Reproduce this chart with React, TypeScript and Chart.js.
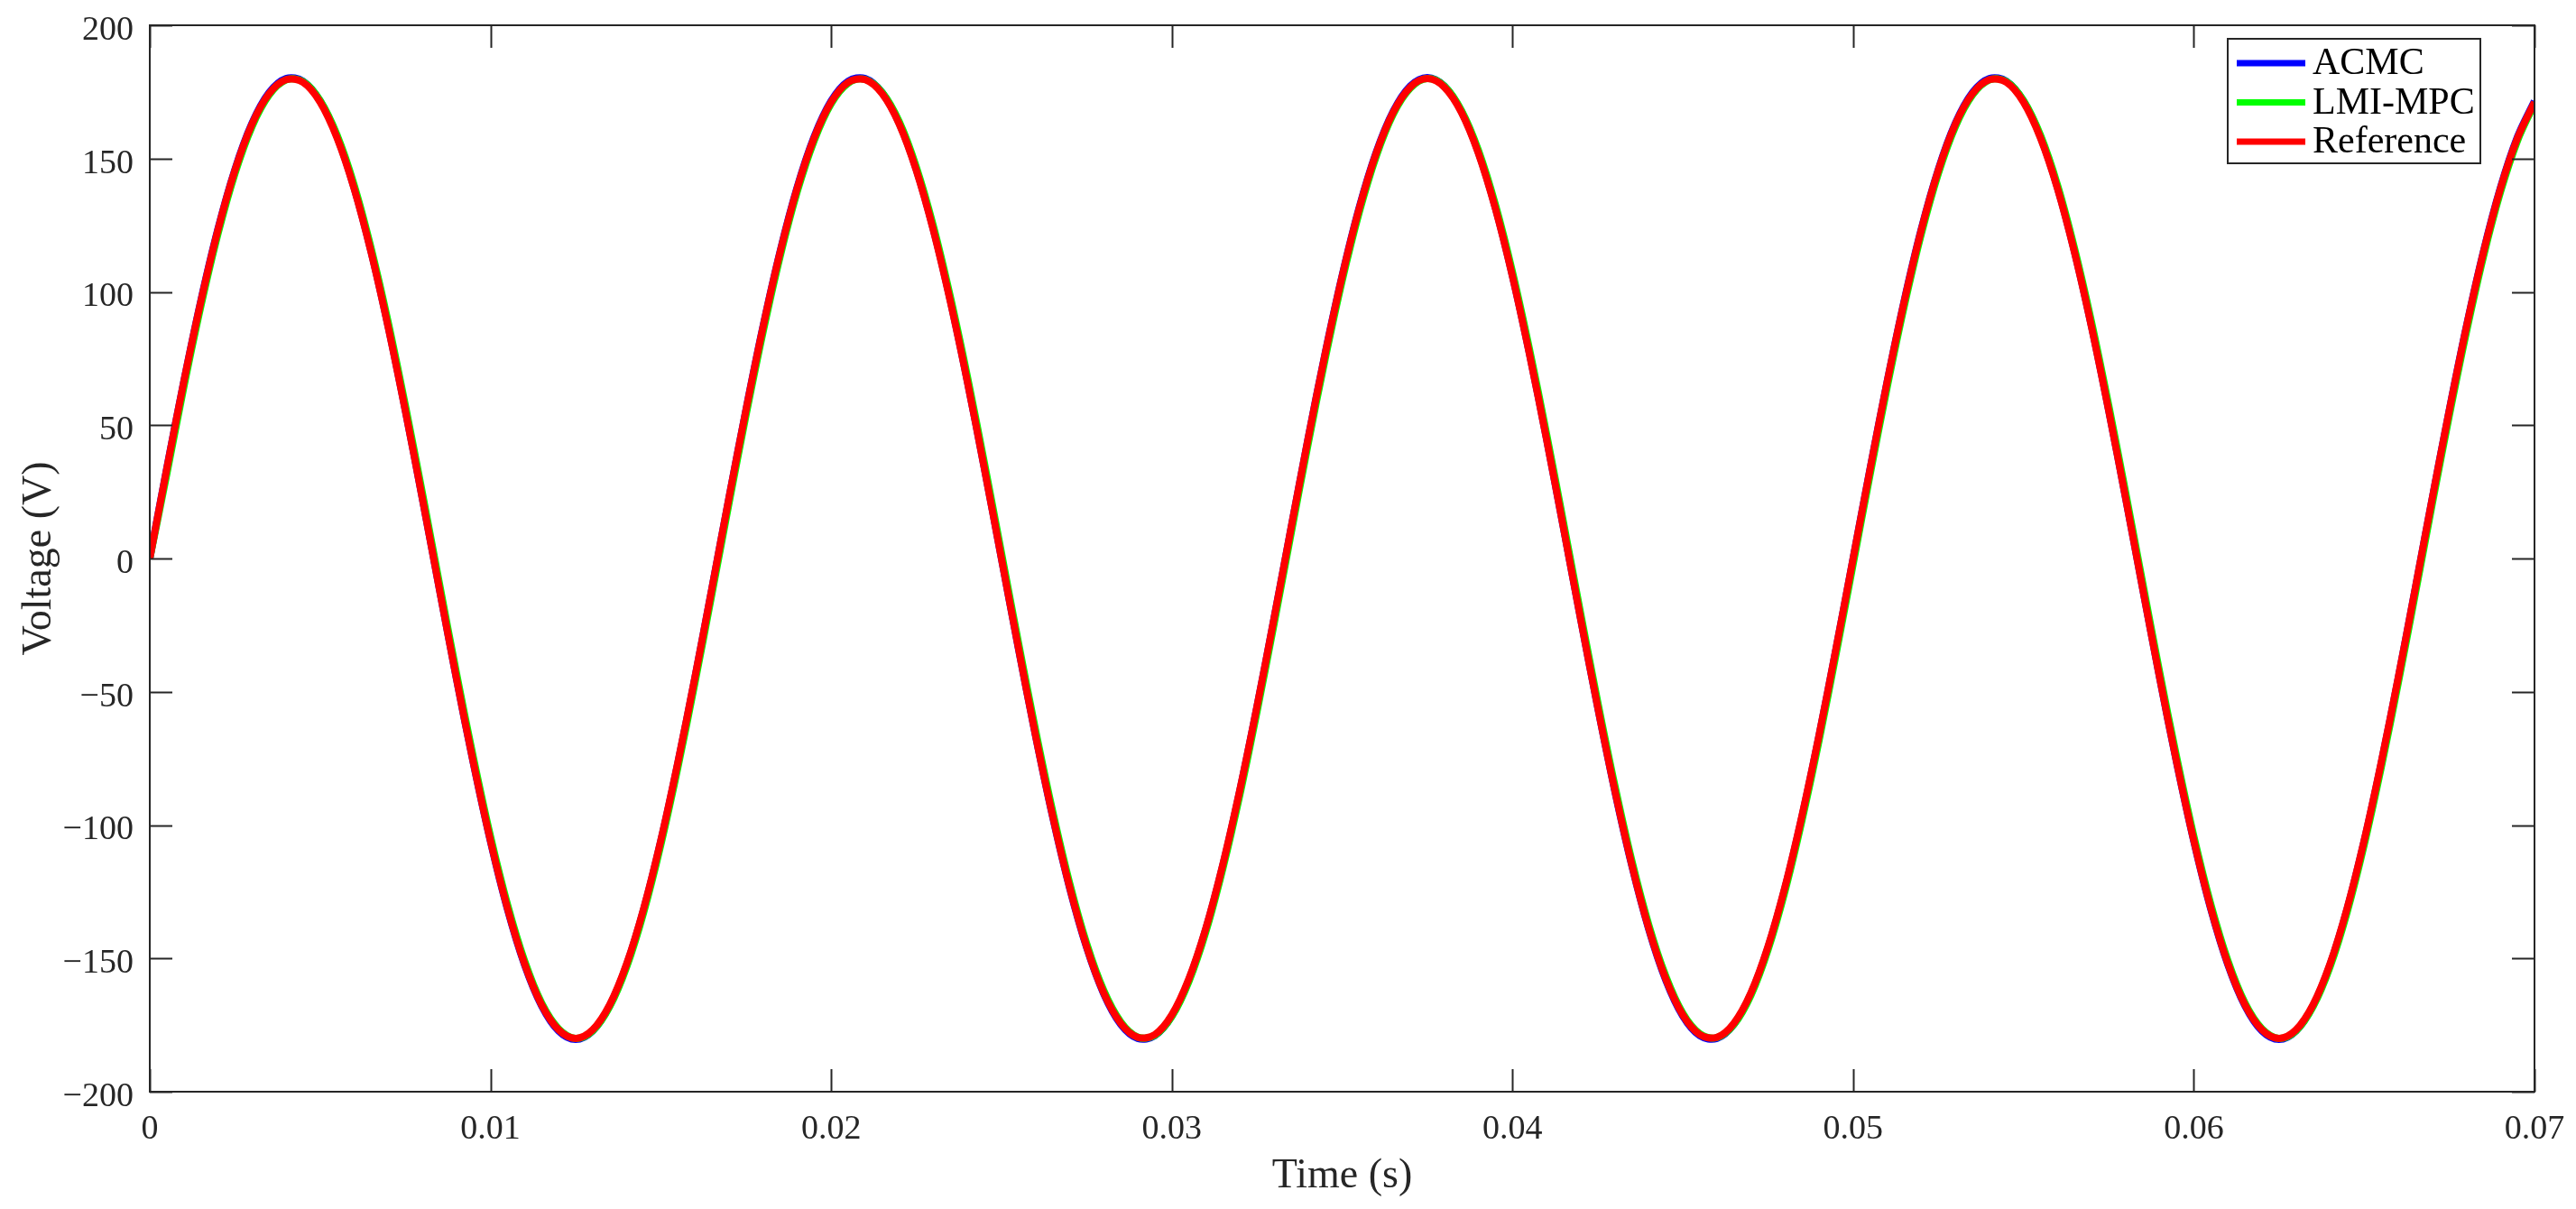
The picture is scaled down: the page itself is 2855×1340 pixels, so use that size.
import React, { useEffect, useRef } from "react";
import { Chart, registerables } from "chart.js";

Chart.register(...registerables);

// Sample times (s)
const TIME = [
  0, 0.0005, 0.001, 0.0015, 0.002, 0.0025, 0.003, 0.0035, 0.004, 0.0045,
  0.005, 0.0055, 0.006, 0.0065, 0.007, 0.0075, 0.008, 0.0085, 0.009, 0.0095,
  0.01, 0.0105, 0.011, 0.0115, 0.012, 0.0125, 0.013, 0.0135, 0.014, 0.0145,
  0.015, 0.0155, 0.016, 0.0165, 0.017, 0.0175, 0.018, 0.0185, 0.019, 0.0195,
  0.02, 0.0205, 0.021, 0.0215, 0.022, 0.0225, 0.023, 0.0235, 0.024, 0.0245,
  0.025, 0.0255, 0.026, 0.0265, 0.027, 0.0275, 0.028, 0.0285, 0.029, 0.0295,
  0.03, 0.0305, 0.031, 0.0315, 0.032, 0.0325, 0.033, 0.0335, 0.034, 0.0345,
  0.035, 0.0355, 0.036, 0.0365, 0.037, 0.0375, 0.038, 0.0385, 0.039, 0.0395,
  0.04, 0.0405, 0.041, 0.0415, 0.042, 0.0425, 0.043, 0.0435, 0.044, 0.0445,
  0.045, 0.0455, 0.046, 0.0465, 0.047, 0.0475, 0.048, 0.0485, 0.049, 0.0495,
  0.05, 0.0505, 0.051, 0.0515, 0.052, 0.0525, 0.053, 0.0535, 0.054, 0.0545,
  0.055, 0.0555, 0.056, 0.0565, 0.057, 0.0575, 0.058, 0.0585, 0.059, 0.0595,
  0.06, 0.0605, 0.061, 0.0615, 0.062, 0.0625, 0.063, 0.0635, 0.064, 0.0645,
  0.065, 0.0655, 0.066, 0.0665, 0.067, 0.0675, 0.068, 0.0685, 0.069, 0.0695,
  0.07,
];

// ACMC output voltage (V)
const ACMC = [
  0, 33.8, 66.4, 96.7, 123.5, 145.9, 163.2, 174.7, 180.0, 179.0,
  171.6, 158.1, 139.0, 115.0, 86.9, 55.7, 22.6, -11.3, -44.9, -76.8,
  -106.0, -131.5, -152.3, -167.7, -177.2, -180.4, -177.2, -167.7, -152.3, -131.5,
  -106.0, -76.8, -44.9, -11.3, 22.6, 55.7, 86.9, 115.0, 139.0, 158.1,
  171.6, 179.0, 180.0, 174.7, 163.2, 145.9, 123.5, 96.7, 66.4, 33.8,
  0, -33.8, -66.4, -96.7, -123.5, -145.9, -163.2, -174.7, -180.0, -179.0,
  -171.6, -158.1, -139.0, -115.0, -86.9, -55.7, -22.6, 11.3, 44.9, 76.8,
  106.0, 131.5, 152.3, 167.7, 177.2, 180.4, 177.2, 167.7, 152.3, 131.5,
  106.0, 76.8, 44.9, 11.3, -22.6, -55.7, -86.9, -115.0, -139.0, -158.1,
  -171.6, -179.0, -180.0, -174.7, -163.2, -145.9, -123.5, -96.7, -66.4, -33.8,
  0, 33.8, 66.4, 96.7, 123.5, 145.9, 163.2, 174.7, 180.0, 179.0,
  171.6, 158.1, 139.0, 115.0, 86.9, 55.7, 22.6, -11.3, -44.9, -76.8,
  -106.0, -131.5, -152.3, -167.7, -177.2, -180.4, -177.2, -167.7, -152.3, -131.5,
  -106.0, -76.8, -44.9, -11.3, 22.6, 55.7, 86.9, 115.0, 139.0, 158.1,
  171.6,
];

// LMI-MPC output voltage (V)
const LMI_MPC = [
  0, 31.7, 64.4, 94.7, 121.7, 144.4, 162.0, 173.8, 179.5, 178.9,
  171.8, 158.7, 140.0, 116.2, 88.5, 57.5, 24.6, -9.3, -42.9, -74.8,
  -104.2, -129.8, -150.9, -166.7, -176.4, -180.0, -177.2, -168.1, -153.1, -132.6,
  -107.4, -78.4, -46.7, -13.3, 20.6, 53.7, 84.9, 113.2, 137.4, 156.7,
  170.6, 178.3, 179.7, 174.8, 163.8, 146.8, 124.7, 98.1, 68.2, 35.7,
  2.0, -31.7, -64.4, -94.7, -121.7, -144.4, -162.0, -173.8, -179.5, -178.9,
  -171.8, -158.7, -140.0, -116.2, -88.5, -57.5, -24.6, 9.3, 42.9, 74.8,
  104.2, 129.8, 150.9, 166.7, 176.4, 180.0, 177.2, 168.1, 153.1, 132.6,
  107.4, 78.4, 46.7, 13.3, -20.6, -53.7, -84.9, -113.2, -137.4, -156.7,
  -170.6, -178.3, -179.7, -174.8, -163.8, -146.8, -124.7, -98.1, -68.2, -35.7,
  -2.0, 31.7, 64.4, 94.7, 121.7, 144.4, 162.0, 173.8, 179.5, 178.9,
  171.8, 158.7, 140.0, 116.2, 88.5, 57.5, 24.6, -9.3, -42.9, -74.8,
  -104.2, -129.8, -150.9, -166.7, -176.4, -180.0, -177.2, -168.1, -153.1, -132.6,
  -107.4, -78.4, -46.7, -13.3, 20.6, 53.7, 84.9, 113.2, 137.4, 156.7,
  170.6,
];

// Reference voltage (V)
const REFERENCE = [
  0, 33.7, 66.3, 96.4, 123.2, 145.6, 162.9, 174.3, 179.6, 178.6,
  171.2, 157.7, 138.7, 114.7, 86.7, 55.6, 22.6, -11.3, -44.8, -76.6,
  -105.8, -131.2, -152.0, -167.4, -176.8, -180, -176.8, -167.4, -152.0, -131.2,
  -105.8, -76.6, -44.8, -11.3, 22.6, 55.6, 86.7, 114.7, 138.7, 157.7,
  171.2, 178.6, 179.6, 174.3, 162.9, 145.6, 123.2, 96.4, 66.3, 33.7,
  0, -33.7, -66.3, -96.4, -123.2, -145.6, -162.9, -174.3, -179.6, -178.6,
  -171.2, -157.7, -138.7, -114.7, -86.7, -55.6, -22.6, 11.3, 44.8, 76.6,
  105.8, 131.2, 152.0, 167.4, 176.8, 180, 176.8, 167.4, 152.0, 131.2,
  105.8, 76.6, 44.8, 11.3, -22.6, -55.6, -86.7, -114.7, -138.7, -157.7,
  -171.2, -178.6, -179.6, -174.3, -162.9, -145.6, -123.2, -96.4, -66.3, -33.7,
  0, 33.7, 66.3, 96.4, 123.2, 145.6, 162.9, 174.3, 179.6, 178.6,
  171.2, 157.7, 138.7, 114.7, 86.7, 55.6, 22.6, -11.3, -44.8, -76.6,
  -105.8, -131.2, -152.0, -167.4, -176.8, -180, -176.8, -167.4, -152.0, -131.2,
  -105.8, -76.6, -44.8, -11.3, 22.6, 55.6, 86.7, 114.7, 138.7, 157.7,
  171.2,
];

const SERIES_LABELS = ["ACMC", "LMI-MPC", "Reference"];
const SERIES_COLORS = ["#0000ff", "#00ff00", "#ff0000"];
const X_TICKS = [0, 0.01, 0.02, 0.03, 0.04, 0.05, 0.06, 0.07];
const Y_TICKS = [-200, -150, -100, -50, 0, 50, 100, 150, 200];
const X_TITLE = "Time (s)";
const Y_TITLE = "Voltage (V)";

const FONT = "'Liberation Serif', 'Times New Roman', serif";
const AXIS_COLOR = "#262626";

const framePlugin = {
  id: "matlabFrame",
  afterDatasetsDraw(chart: any) {
    const { ctx, chartArea, scales } = chart;
    const { left, right, top, bottom } = chartArea;
    const xs = scales.x;
    const ys = scales.y;
    ctx.save();
    ctx.strokeStyle = AXIS_COLOR;
    ctx.lineWidth = 2;
    ctx.strokeRect(left, top, right - left, bottom - top);
    const TL = 25;
    ctx.beginPath();
    for (const v of X_TICKS) {
      const px = Math.round(xs.getPixelForValue(v)) + 0.5;
      ctx.moveTo(px, bottom);
      ctx.lineTo(px, bottom - TL);
      ctx.moveTo(px, top);
      ctx.lineTo(px, top + TL);
    }
    for (const v of Y_TICKS) {
      const py = Math.round(ys.getPixelForValue(v)) + 0.5;
      ctx.moveTo(left, py);
      ctx.lineTo(left + TL, py);
      ctx.moveTo(right, py);
      ctx.lineTo(right - TL, py);
    }
    ctx.stroke();

    // legend box
    const bw = 280;
    const bh = 138;
    const bx = right - 60 - bw;
    const by = top + 15;
    ctx.fillStyle = "#ffffff";
    ctx.fillRect(bx, by, bw, bh);
    ctx.lineWidth = 2;
    ctx.strokeStyle = AXIS_COLOR;
    ctx.strokeRect(bx, by, bw, bh);
    ctx.font = `42px ${FONT}`;
    ctx.textBaseline = "middle";
    ctx.textAlign = "left";
    chart.data.datasets.forEach((ds: any, i: number) => {
      const ry = by + 27 + i * 43.5;
      ctx.strokeStyle = ds.borderColor;
      ctx.lineWidth = 7;
      ctx.beginPath();
      ctx.moveTo(bx + 10, ry);
      ctx.lineTo(bx + 86, ry);
      ctx.stroke();
      ctx.fillStyle = "#000000";
      ctx.fillText(ds.label, bx + 94, ry + 1);
    });
    ctx.restore();
  },
};

export default function App() {
  const ref = useRef<HTMLCanvasElement>(null);

  useEffect(() => {
    document.body.style.margin = "0";
    const series = [ACMC, LMI_MPC, REFERENCE];
    const datasets = series.map((vals, i) => ({
      label: SERIES_LABELS[i],
      data: TIME.map((t, k) => ({ x: t, y: vals[k] })),
      borderColor: SERIES_COLORS[i],
      backgroundColor: SERIES_COLORS[i],
      borderWidth: 8,
      pointRadius: 0,
      tension: 0.35,
      fill: false,
      order: 2 - i,
    }));

    const chart = new Chart(ref.current!, {
      type: "line",
      data: { datasets },
      plugins: [framePlugin],
      options: {
        animation: false,
        responsive: false,
        devicePixelRatio: 1,
        layout: { padding: { left: 0, top: 28, right: 46, bottom: 0 } },
        plugins: { legend: { display: false }, tooltip: { enabled: false } },
        scales: {
          x: {
            type: "linear",
            min: 0,
            max: 0.07,
            afterBuildTicks: (s: any) => {
              s.ticks = X_TICKS.map((v) => ({ value: v }));
            },
            afterFit: (s: any) => {
              s.height = 130;
              s.paddingLeft = 0;
              s.paddingRight = 0;
            },
            grid: { display: false, drawTicks: false },
            border: { display: false },
            ticks: {
              autoSkip: false,
              maxRotation: 0,
              padding: 19,
              color: AXIS_COLOR,
              font: { family: FONT, size: 38 },
              callback: (v: any) => String(v),
            },
            title: {
              display: true,
              text: X_TITLE,
              color: AXIS_COLOR,
              font: { family: FONT, size: 46 },
              padding: { top: 0, bottom: 8 },
            },
          },
          y: {
            type: "linear",
            min: -200,
            max: 200,
            afterBuildTicks: (s: any) => {
              s.ticks = Y_TICKS.map((v) => ({ value: v }));
            },
            afterFit: (s: any) => {
              s.width = 166;
              s.paddingTop = 0;
              s.paddingBottom = 0;
            },
            grid: { display: false, drawTicks: false },
            border: { display: false },
            ticks: {
              autoSkip: false,
              padding: 18,
              labelOffset: 6,
              color: AXIS_COLOR,
              font: { family: FONT, size: 38 },
              callback: (v: any) => String(v).replace("-", "\u2212"),
            },
            title: {
              display: true,
              text: Y_TITLE,
              color: AXIS_COLOR,
              font: { family: FONT, size: 46 },
              padding: { top: 16, bottom: 0 },
            },
          },
        },
      },
    });
    return () => chart.destroy();
  }, []);

  return (
    <div style={{ width: 2855, height: 1340, background: "#ffffff", overflow: "hidden" }}>
      <canvas ref={ref} width={2855} height={1340} style={{ display: "block" }} />
    </div>
  );
}
